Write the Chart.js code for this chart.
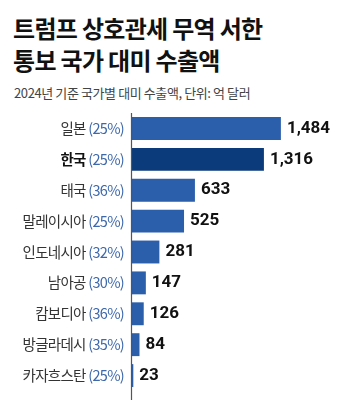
<!DOCTYPE html>
<html>
<head>
<meta charset="utf-8">
<script src="https://cdn.jsdelivr.net/npm/chart.js@4/dist/chart.umd.min.js"></script>
<style>
  html, body { margin: 0; padding: 0; background: #fff; }
  body { width: 341px; height: 400px; position: relative; overflow: hidden;
         font-family: "Noto Sans CJK KR", "Noto Sans", sans-serif; }
  .title { position: absolute; left: 13px; top: 12px; font-size: 24px; font-weight: 700;
           line-height: 32px; color: #111; letter-spacing: -0.7px; }
  .sub { position: absolute; left: 14px; top: 83px; font-size: 13px; color: #444;
         letter-spacing: -0.4px; }
  .wrap { position: absolute; left: 0; top: 113px; width: 341px; height: 287px; }
</style>
</head>
<body>
<div class="title">트럼프 상호관세 무역 서한<br>통보 국가 대미 수출액</div>
<div class="sub">2024년 기준 국가별 대미 수출액, 단위: 억 달러</div>
<div class="wrap"><canvas id="myChart"></canvas></div>
<script>
const countries = ['일본', '한국', '태국', '말레이시아', '인도네시아', '남아공', '캄보디아', '방글라데시', '카자흐스탄'];
const tariffs = ['25%', '25%', '36%', '25%', '32%', '30%', '36%', '35%', '25%'];
const exports = [1484, 1316, 633, 525, 281, 147, 126, 84, 23];
const highlight = '한국';

const barColor = '#2b5eab';
const hiColor = '#0b3b7a';

// country name + tariff rate, drawn left of the axis in two colours
const labelPlugin = {
  id: 'labels',
  afterDraw(chart) {
    const ctx = chart.ctx;
    const y = chart.scales.y;
    const x = chart.scales.x;
    const left = chart.chartArea.left;
    ctx.save();
    ctx.textBaseline = 'middle';
    ctx.letterSpacing = '-0.7px';

    // axis line running to the bottom
    ctx.strokeStyle = '#555';
    ctx.lineWidth = 1.2;
    ctx.beginPath();
    ctx.moveTo(left + 0.5, chart.chartArea.top);
    ctx.lineTo(left + 0.5, chart.height);
    ctx.stroke();

    countries.forEach((name, i) => {
      const cy = y.getPixelForValue(i);
      const pct = '(' + tariffs[i] + ')';
      ctx.textAlign = 'right';
      ctx.font = '14.5px "Noto Sans CJK KR"';
      ctx.fillStyle = '#3d68ab';
      ctx.fillText(pct, left - 7, cy);
      const w = ctx.measureText(pct).width;
      const bold = name === highlight;
      ctx.font = (bold ? '700 ' : '') + '14.5px "Noto Sans CJK KR"';
      ctx.fillStyle = bold ? '#111' : '#333';
      ctx.fillText(name + ' ', left - 7 - w, cy);

      // value at bar end
      ctx.textAlign = 'left';
      ctx.font = '700 17px Roboto';
      ctx.fillStyle = '#111';
      ctx.letterSpacing = '0px';
      ctx.fillText(exports[i].toLocaleString('en-US'), x.getPixelForValue(exports[i]) + 6, cy);
      ctx.letterSpacing = '-0.7px';
    });
    ctx.restore();
  }
};

new Chart(document.getElementById('myChart').getContext('2d'), {
  type: 'bar',
  data: {
    labels: countries,
    datasets: [{
      data: exports,
      backgroundColor: countries.map(c => c === highlight ? hiColor : barColor),
      barPercentage: 0.78,
      categoryPercentage: 0.95
    }]
  },
  options: {
    indexAxis: 'y',
    responsive: true,
    maintainAspectRatio: false,
    animation: false,
    layout: { padding: { left: 131, right: 8, top: 0, bottom: 9 } },
    plugins: { legend: { display: false }, tooltip: { enabled: false } },
    scales: {
      x: { display: false, min: 0, max: 2000 },
      y: { display: false }
    }
  },
  plugins: [labelPlugin]
});
</script>
</body>
</html>
